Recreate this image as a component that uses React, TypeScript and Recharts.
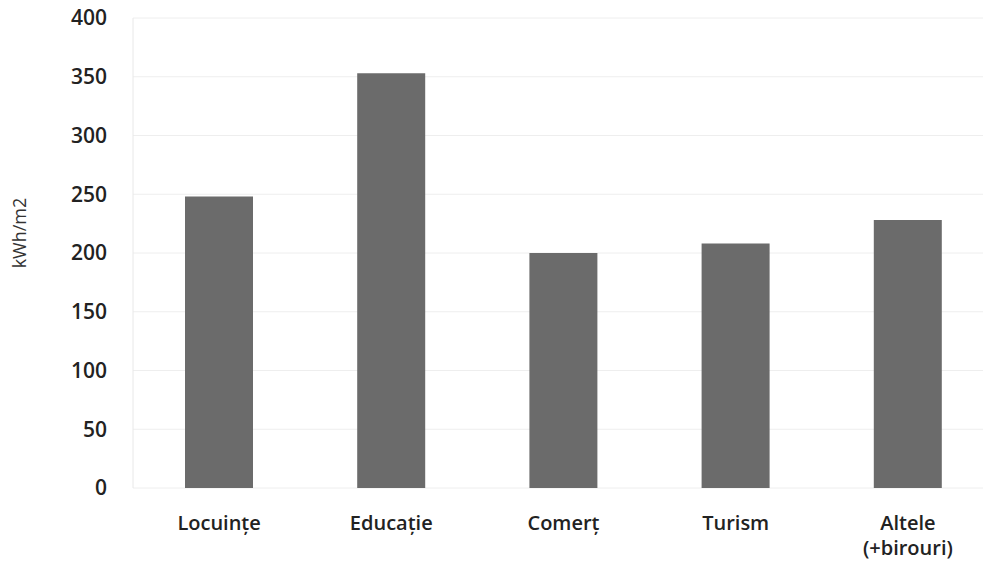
import { BarChart, Bar, XAxis, YAxis, CartesianGrid } from "recharts";

const categories = ["Locuințe", "Educație", "Comerț", "Turism", "Altele\n(+birouri)"];
const values = [248, 353, 200, 208, 228];
const yTicks = [0, 50, 100, 150, 200, 250, 300, 350, 400];

const data = categories.map((name, i) => ({ name, value: values[i] }));

const FONT = "'Open Sans', sans-serif";

function CategoryTick({ x, y, payload }: any) {
  const lines = String(payload.value).split("\n");
  return (
    <text x={x} y={y} textAnchor="middle" fontFamily={FONT} fontSize={20} fontWeight={600} fill="#222">
      {lines.map((l, i) => (
        <tspan key={i} x={x} dy={i === 0 ? 34 : 25}>
          {l}
        </tspan>
      ))}
    </text>
  );
}

export default function App() {
  return (
    <div style={{ position: "absolute", left: 0, top: 0, background: "#fff", overflow: "hidden", width: 983, height: 573 }}>
      <BarChart
        width={983}
        height={573}
        data={data}
        margin={{ top: 18, right: -11, left: 0, bottom: 0 }}
        barSize={68}
      >
        <CartesianGrid vertical={false} stroke="#eeeeee" />
        <XAxis
          dataKey="name"
          height={85}
          tick={<CategoryTick />}
          tickLine={false}
          axisLine={false}
          interval={0}
        />
        <YAxis
          domain={[0, 400]}
          ticks={yTicks}
          width={133}
          tickSize={0}
          tickMargin={26}
          tick={{ fontSize: 21, fill: "#222", fontFamily: FONT, fontWeight: 600 }}
          tickLine={false}
          axisLine={{ stroke: "#e8e8e8" }}
          label={{
            value: "kWh/m2",
            angle: -90,
            position: "insideLeft",
            offset: 20,
            dy: -20,
            style: { fontSize: 18, fill: "#333", fontFamily: FONT, textAnchor: "middle" },
          }}
        />
        <Bar dataKey="value" fill="#6b6b6b" isAnimationActive={false} />
      </BarChart>
    </div>
  );
}
